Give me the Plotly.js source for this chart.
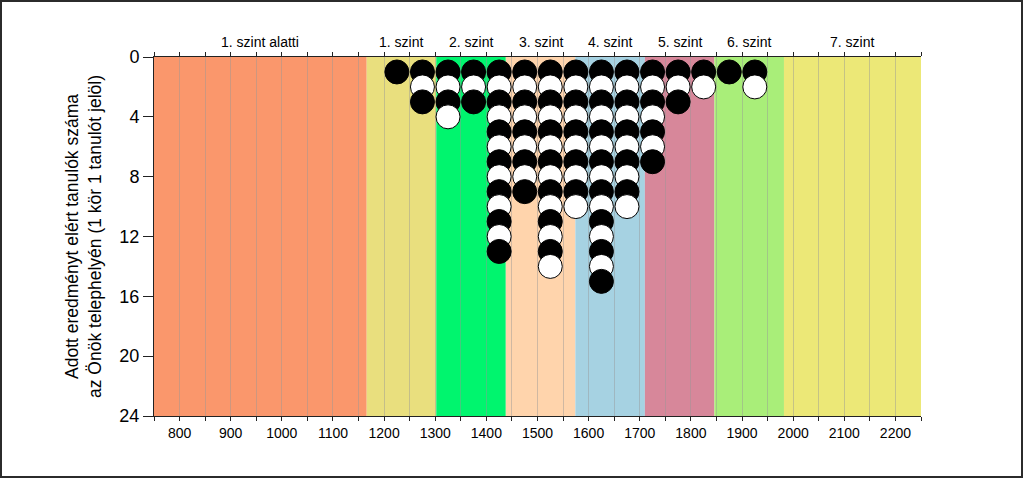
<!DOCTYPE html>
<html>
<head>
<meta charset="utf-8">
<script src="https://cdn.plot.ly/plotly-3.0.1.min.js"></script>
<style>
html,body{margin:0;padding:0;background:#fff;}
#wrap{position:relative;width:1024px;height:478px;}
#chart{width:1024px;height:478px;}
#frame{position:absolute;left:0;top:0;width:1023px;height:478px;box-sizing:border-box;border:2px solid #2b2b2b;pointer-events:none;}
</style>
</head>
<body>
<div id="wrap"><div id="chart"></div><div id="frame"></div></div>
<script>
// Level bands (score ranges)
const bandStart = [750, 1166, 1302, 1438, 1574, 1710, 1846, 1982];
const bandEnd   = [1166, 1302, 1438, 1574, 1710, 1846, 1982, 2250];
const bandLabels = ['1. szint alatti', '1. szint', '2. szint', '3. szint', '4. szint', '5. szint', '6. szint', '7. szint'];
const bandColors = ['#FA976C', '#E9DF7E', '#00F56E', '#FFD4AC', '#A6D2E2', '#D7879A', '#A9EE79', '#ECE877'];

// Score columns and number of students in each
const scoreX = [1225, 1275, 1325, 1375, 1425, 1475, 1525, 1575, 1625, 1675, 1725, 1775, 1825, 1875, 1925];
const studentCounts = [1, 3, 4, 3, 13, 9, 14, 10, 15, 10, 7, 3, 2, 1, 2];

const yTicks = [0, 4, 8, 12, 16, 20, 24];

// Build the circle positions from the counts
const px = [], py = [], pc = [];
scoreX.forEach((x, i) => {
  for (let k = 1; k <= studentCounts[i]; k++) {
    px.push(x); py.push(k); pc.push(k % 2 === 1 ? '#000000' : '#FFFFFF');
  }
});

const shapes = bandStart.map((s, i) => ({
  type: 'rect', xref: 'x', yref: 'paper', x0: s, x1: bandEnd[i], y0: 0, y1: 1,
  fillcolor: bandColors[i], line: {width: 0}, layer: 'below'
}));

const annotations = bandLabels.map((t, i) => ({
  text: t, x: (bandStart[i] + bandEnd[i]) / 2, xref: 'x', y: 1, yref: 'paper',
  yanchor: 'bottom', yshift: 5, showarrow: false,
  font: {family: 'Arial, "Liberation Sans", sans-serif', size: 14, color: '#000'}
}));

const trace = {
  type: 'scatter', mode: 'markers', x: px, y: py, hoverinfo: 'skip',
  marker: {size: 24, color: pc, line: {color: '#000', width: 1}}
};

const font = {family: 'Arial, "Liberation Sans", sans-serif', color: '#000'};

const layout = {
  width: 1024, height: 478,
  margin: {l: 154, r: 103, t: 57, b: 62},
  paper_bgcolor: '#fff', plot_bgcolor: 'rgba(0,0,0,0)',
  showlegend: false,
  font: font,
  shapes: shapes,
  annotations: annotations,
  xaxis: {
    range: [750, 2250], dtick: 100, tick0: 800, tickmode: 'linear',
    ticks: 'outside', ticklen: 4, tickcolor: '#222', tickwidth: 1,
    showline: true, linecolor: '#222', linewidth: 1, mirror: 'ticks',
    showgrid: true, gridcolor: 'rgba(150,150,150,0.45)', gridwidth: 1,
    minor: {dtick: 50, tick0: 750, ticks: 'outside', ticklen: 4, tickcolor: '#222', showgrid: true, gridcolor: 'rgba(150,150,150,0.45)', gridwidth: 1},
    tickfont: {family: font.family, size: 14, color: '#000'},
    zeroline: false, fixedrange: true
  },
  yaxis: {
    range: [24, 0], tickmode: 'array', tickvals: yTicks, ticktext: yTicks.map(String),
    ticks: 'outside', ticklen: 10, tickcolor: '#222', tickwidth: 1,
    showline: true, linecolor: '#222', linewidth: 1,
    showgrid: false, zeroline: false, fixedrange: true,
    tickfont: {family: font.family, size: 18, color: '#000'},
    title: {text: 'Adott eredményt elért tanulók száma<br>az Önök telephelyén (1 kör 1 tanulót jelöl)',
            font: {family: font.family, size: 17.5, color: '#000'}, standoff: 13}
  }
};

Plotly.newPlot('chart', [trace], layout, {displayModeBar: false, staticPlot: true});
</script>
</body>
</html>
